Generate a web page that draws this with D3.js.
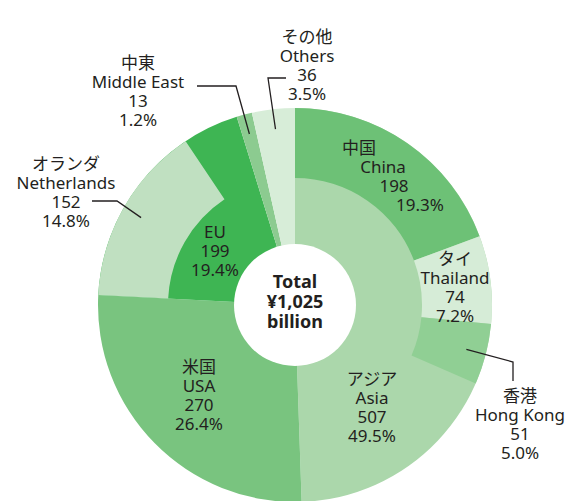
<!DOCTYPE html>
<html>
<head>
<meta charset="utf-8">
<script src="https://cdn.jsdelivr.net/npm/d3@7"></script>
<style>
  body { margin: 0; background: #fff; }
  #chart text { font-family: "Noto Sans", "Noto Sans CJK JP", sans-serif; fill: #231f20; }
</style>
</head>
<body>
<div id="chart"></div>
<script>
"use strict";

// regions (inner ring), clockwise from 12 o'clock
const regionKeys = ["asia", "usa", "eu", "mideast", "others"];
const regionJa = ["アジア", "米国", "", "中東", "その他"];
const regionEn = ["Asia", "USA", "EU", "Middle East", "Others"];
const regionValues = [507, 270, 199, 13, 36];
const regionShares = ["49.5%", "26.4%", "19.4%", "1.2%", "3.5%"];

// countries (outer ring), drawn from the start of their region
const countryKeys = ["china", "thailand", "hongkong", "netherlands"];
const countryJa = ["中国", "タイ", "香港", "オランダ"];
const countryEn = ["China", "Thailand", "Hong Kong", "Netherlands"];
const countryValues = [198, 74, 51, 152];
const countryShares = ["19.3%", "7.2%", "5.0%", "14.8%"];
const countryRegion = ["asia", "asia", "asia", "eu"];

const totalLines = ["Total", "¥1,025", "billion"];

const colors = {
  asia: "#abd7ab",
  usa: "#79c47f",
  eu: "#3eb553",
  mideast: "#8ccb90",
  others: "#d7edd8",
  china: "#6dc176",
  thailand: "#d6ecd7",
  hongkong: "#90cf94",
  netherlands: "#c0e0c1",
};

// label layout: text centre x, first line centre y, optional per-line dx,
// and leader (elbow + end of horizontal) for outside labels
const labelLayout = {
  asia: { x: 372, y: 379 },
  usa: { x: 199, y: 367 },
  eu: { x: 215, y: 232 },
  mideast: { x: 138, y: 63, elbow: [236, 86], tail: [197, 86] },
  others: { x: 307, y: 37, elbow: [268, 78], tail: [286, 78] },
  china: { x: 359, y: 148, dx: [0, 24, 35, 61] },
  thailand: { x: 455, y: 259 },
  hongkong: { x: 520, y: 396, elbow: [513, 362], tail: [513, 381] },
  netherlands: { x: 66, y: 164, elbow: [117, 201], tail: [92, 201] },
};

const W = 567, H = 501;
const cx = 295, cy = 305;
const r0 = 61, r1 = 127, r2 = 197;
const lineH = 19;

const svg = d3.select("#chart").append("svg")
  .attr("width", W).attr("height", H);

const total = d3.sum(regionValues);
const angle = d3.scaleLinear().domain([0, total]).range([0, 2 * Math.PI]);

// build segments
const regions = [];
let acc = 0;
regionKeys.forEach((k, i) => {
  regions.push({
    key: k, start: acc, end: acc + regionValues[i],
    lines: [regionJa[i], regionEn[i], String(regionValues[i]), regionShares[i]].filter((s) => s !== ""),
  });
  acc += regionValues[i];
});

const countries = [];
const used = {};
countryKeys.forEach((k, i) => {
  const reg = regions.find((r) => r.key === countryRegion[i]);
  const s = reg.start + (used[reg.key] || 0);
  used[reg.key] = (used[reg.key] || 0) + countryValues[i];
  countries.push({
    key: k, start: s, end: s + countryValues[i],
    lines: [countryJa[i], countryEn[i], String(countryValues[i]), countryShares[i]],
  });
});

const g = svg.append("g").attr("transform", `translate(${cx},${cy})`);

const arc = d3.arc();

// regions span the whole ring; countries overlay the outer ring
g.selectAll("path.region").data(regions).enter().append("path")
  .attr("class", "region")
  .attr("d", (d) => arc({ innerRadius: r0 - 1, outerRadius: r2, startAngle: angle(d.start), endAngle: angle(d.end) }))
  .attr("fill", (d) => colors[d.key]);

g.selectAll("path.country").data(countries).enter().append("path")
  .attr("class", "country")
  .attr("d", (d) => arc({ innerRadius: r1, outerRadius: r2, startAngle: angle(d.start), endAngle: angle(d.end) }))
  .attr("fill", (d) => colors[d.key]);

// white hole
g.append("circle").attr("r", r0).attr("fill", "#fff");

// leader lines
const leaderR = 177;
const all = regions.concat(countries);
all.filter((d) => labelLayout[d.key].elbow).forEach((d) => {
  const L = labelLayout[d.key];
  const a = angle((d.start + d.end) / 2);
  const p = [cx + leaderR * Math.sin(a), cy - leaderR * Math.cos(a)];
  svg.append("polyline")
    .attr("points", [p, L.elbow, L.tail].map((q) => q.join(",")).join(" "))
    .attr("fill", "none")
    .attr("stroke", "#231f20")
    .attr("stroke-width", 1.3);
});

// labels
all.forEach((d) => {
  const L = labelLayout[d.key];
  const t = svg.append("text")
    .attr("text-anchor", "middle")
    .attr("font-size", 17);
  d.lines.forEach((s, j) => {
    t.append("tspan")
      .attr("x", L.x + (L.dx ? L.dx[j] : 0))
      .attr("y", L.y + j * lineH)
      .attr("dy", "0.36em")
      .text(s);
  });
});

// centre total
const ct = svg.append("text")
  .attr("text-anchor", "middle")
  .attr("font-size", 18)
  .attr("font-weight", "bold");
totalLines.forEach((s, j) => {
  ct.append("tspan")
    .attr("x", cx)
    .attr("y", 282 + j * 20)
    .attr("dy", "0.36em")
    .text(s);
});
</script>
</body>
</html>
